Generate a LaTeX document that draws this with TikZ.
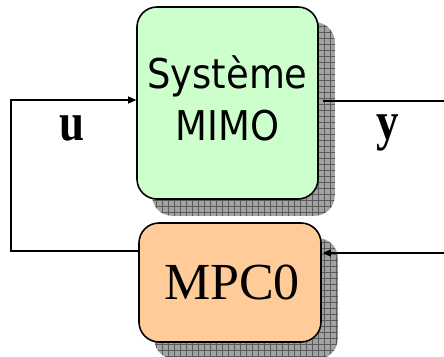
\documentclass[tikz,border=0pt]{standalone}
\usepackage{fontspec}
\setmainfont{Liberation Serif}
\newfontfamily\sysfont{DejaVu Sans Condensed}
\usetikzlibrary{arrows.meta,patterns.meta,backgrounds}
\definecolor{sysgreen}{HTML}{CCFFCC}
\definecolor{ctrlorange}{HTML}{FFCC99}
\definecolor{shadowgray}{HTML}{A2A2A2}
\definecolor{gridgray}{HTML}{5A5A5A}
\tikzset{
  block/.style={draw=black, line width=1.6pt, rounded corners=20pt, inner sep=0pt},
  sysbox/.style={block, fill=sysgreen, minimum width=181pt, minimum height=192pt,
    align=center, font=\sysfont\fontsize{41}{52}\selectfont, text depth=10pt},
  ctrlbox/.style={block, fill=ctrlorange, minimum width=182pt, minimum height=119pt,
    font=\fontsize{52}{60}\selectfont},
  shadowfill/.style={fill=shadowgray, rounded corners=20pt},
  shadowgrid/.style={pattern={Hatch[angle=0,distance=6pt,line width=0.7pt]},
    pattern color=gridgray, rounded corners=20pt},
  wire/.style={draw=black, line width=1.3pt},
  arrowwire/.style={wire, -{Triangle[length=8pt,width=7pt]}},
  siglabel/.style={font=\bfseries\fontsize{45}{50}\selectfont, anchor=base},
}
\begin{document}
\begin{tikzpicture}[x=1pt,y=-1pt]
  \useasboundingbox (0,0) rectangle (444,356);

  % the two blocks
  \node[sysbox] (sys) at (227.5,103) {Système\\MIMO};
  \node[ctrlbox] (mpc) at (230,282.5) {\hspace{4pt}MPC0};

  % drop shadows behind the blocks
  \begin{scope}[on background layer]
    \foreach \b in {sys,mpc} {
      \path[shadowfill] ([shift={(16,16)}]\b.north west) rectangle ([shift={(16,16)}]\b.south east);
      \path[shadowgrid] ([shift={(16,16)}]\b.north west) rectangle ([shift={(16,16)}]\b.south east);
    }
  \end{scope}

  % loop corners and open ends
  \coordinate (ux) at (11,175);
  \coordinate (yout) at (444,101);
  \coordinate (yback) at (444,253);

  % control signal u
  \draw[arrowwire] ([yshift=31.5pt]mpc.west) -| (ux) |- ([yshift=3pt]sys.west);
  % output y and its feedback
  \draw[wire] ([xshift=4pt,yshift=2pt]sys.east) -- (yout);
  \draw[arrowwire] (yback) -- ([xshift=1pt,yshift=29.5pt]mpc.east);

  % signal names
  \node[siglabel] (ulab) at (72,140) {\scalebox{1}[1.2]{u}};
  \node[siglabel] (ylab) at (388,139) {\scalebox{1}[1.2]{y}};
\end{tikzpicture}
\end{document}
